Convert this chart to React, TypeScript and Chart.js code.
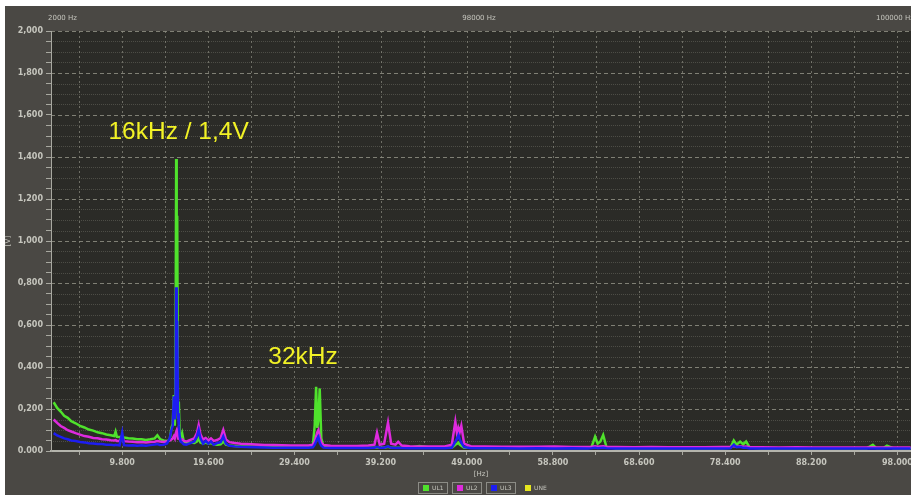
import React, { useEffect, useRef } from 'react';
import { Chart, registerables } from 'chart.js';

Chart.register(...registerables);

// ---- data ----
const freqHz: number[] = [
  2000, 2400, 2800, 3200, 3600, 4000, 4500, 5000, 5500, 6000, 6500, 7000, 7500, 8000, 8500, 8900, 9050, 9200, 9500, 9800,
  10000, 10500, 11000, 11500, 12000, 12500, 13000, 13500, 13800, 14100, 14500, 14900, 15200, 15400, 15550, 15670,
  15780, 15860, 15940, 16000, 16060, 16150, 16240, 16340, 16450, 16620, 16800, 17100,
  17400, 17700, 18000, 18300, 18500, 18700, 19000, 19300, 19600, 19900, 20200, 20600, 21000, 21300, 21600, 22000, 22600,
  23300, 24000, 25000, 26000, 27000, 28000, 29000, 30000, 31000, 31500,
  31700, 31860, 32000, 32120, 32270, 32450, 32700, 33500,
  35000, 36500, 37800, 38500, 38790, 39100, 39600, 40040, 40400, 40900, 41200, 41600, 42500,
  43600, 45000, 46500, 47300, 47700, 47900, 48050, 48200, 48380, 48700, 49500, 51000,
  53000, 55000, 57000, 59000, 61000, 62800, 63200, 63600, 63900, 64200, 64520, 64900,
  66000, 68000, 70000, 72000, 74000, 76000, 78000, 79000, 79380, 79700, 80100, 80450, 80780, 81200, 82500,
  84500, 86500, 88500, 90500, 92500, 94500, 95200, 95600, 96400, 96800, 97500, 98500, 99500,
];

const ul1: number[] = [
  0.232, 0.205, 0.188, 0.168, 0.158, 0.142, 0.132, 0.120, 0.112, 0.102, 0.097, 0.089, 0.085, 0.079, 0.075, 0.071, 0.092, 0.068, 0.067, 0.069,
  0.064, 0.061, 0.059, 0.056, 0.056, 0.053, 0.056, 0.060, 0.075, 0.057, 0.050, 0.048, 0.052, 0.110, 0.130, 0.267,
  0.120, 0.300, 1.390, 0.500, 1.120, 0.160, 0.235, 0.080, 0.060, 0.085, 0.045, 0.040,
  0.038, 0.040, 0.038, 0.045, 0.060, 0.040, 0.035, 0.040, 0.035, 0.038, 0.032, 0.030, 0.032, 0.045, 0.030, 0.026, 0.024,
  0.022, 0.022, 0.020, 0.020, 0.019, 0.018, 0.018, 0.018, 0.018, 0.030,
  0.120, 0.306, 0.110, 0.150, 0.298, 0.060, 0.020, 0.018,
  0.016, 0.016, 0.016, 0.016, 0.018, 0.016, 0.016, 0.020, 0.016, 0.016, 0.016, 0.016, 0.016,
  0.024, 0.015, 0.015, 0.016, 0.030, 0.035, 0.040, 0.030, 0.025, 0.016, 0.015, 0.014,
  0.014, 0.014, 0.014, 0.014, 0.014, 0.014, 0.020, 0.068, 0.035, 0.045, 0.076, 0.018,
  0.013, 0.013, 0.013, 0.013, 0.013, 0.013, 0.013, 0.015, 0.050, 0.030, 0.045, 0.032, 0.045, 0.016, 0.013,
  0.013, 0.013, 0.013, 0.013, 0.013, 0.013, 0.030, 0.014, 0.014, 0.025, 0.013, 0.013, 0.013,
];

const ul2: number[] = [
  0.150, 0.134, 0.119, 0.110, 0.099, 0.093, 0.085, 0.078, 0.071, 0.068, 0.062, 0.061, 0.056, 0.055, 0.051, 0.050, 0.052, 0.048, 0.048, 0.070,
  0.047, 0.045, 0.044, 0.042, 0.043, 0.041, 0.043, 0.044, 0.047, 0.045, 0.043, 0.046, 0.050, 0.055, 0.060, 0.070,
  0.060, 0.080, 0.090, 0.070, 0.085, 0.060, 0.070, 0.055, 0.050, 0.055, 0.048, 0.045,
  0.050, 0.055, 0.060, 0.085, 0.124, 0.080, 0.055, 0.062, 0.050, 0.060, 0.048, 0.052, 0.062, 0.100, 0.055, 0.042, 0.038,
  0.035, 0.033, 0.031, 0.029, 0.028, 0.027, 0.026, 0.026, 0.026, 0.030,
  0.045, 0.070, 0.090, 0.100, 0.070, 0.040, 0.028, 0.025,
  0.024, 0.024, 0.026, 0.030, 0.087, 0.030, 0.035, 0.135, 0.035, 0.030, 0.044, 0.026, 0.023,
  0.022, 0.022, 0.022, 0.030, 0.140, 0.080, 0.110, 0.090, 0.120, 0.035, 0.022, 0.021,
  0.020, 0.020, 0.020, 0.021, 0.019, 0.019, 0.020, 0.022, 0.020, 0.021, 0.022, 0.020,
  0.019, 0.018, 0.019, 0.018, 0.018, 0.018, 0.019, 0.020, 0.024, 0.020, 0.022, 0.020, 0.021, 0.018, 0.018,
  0.017, 0.018, 0.017, 0.017, 0.017, 0.017, 0.018, 0.017, 0.017, 0.017, 0.017, 0.017, 0.017,
];

const ul3: number[] = [
  0.085, 0.074, 0.067, 0.060, 0.056, 0.050, 0.048, 0.043, 0.041, 0.037, 0.036, 0.033, 0.033, 0.030, 0.030, 0.028, 0.030, 0.028, 0.027, 0.087,
  0.028, 0.026, 0.027, 0.025, 0.027, 0.025, 0.028, 0.031, 0.033, 0.029, 0.030, 0.036, 0.060, 0.100, 0.120, 0.260,
  0.150, 0.200, 0.780, 0.300, 0.620, 0.180, 0.120, 0.070, 0.045, 0.040, 0.032, 0.030,
  0.035, 0.040, 0.045, 0.070, 0.100, 0.060, 0.035, 0.048, 0.035, 0.045, 0.030, 0.038, 0.042, 0.070, 0.035, 0.025, 0.022,
  0.020, 0.019, 0.018, 0.017, 0.016, 0.016, 0.015, 0.015, 0.015, 0.018,
  0.030, 0.045, 0.060, 0.068, 0.040, 0.025, 0.016, 0.014,
  0.014, 0.014, 0.014, 0.015, 0.020, 0.015, 0.016, 0.022, 0.015, 0.014, 0.015, 0.014, 0.013,
  0.013, 0.013, 0.013, 0.015, 0.045, 0.060, 0.076, 0.055, 0.040, 0.018, 0.013, 0.013,
  0.013, 0.012, 0.013, 0.012, 0.013, 0.012, 0.013, 0.015, 0.013, 0.014, 0.015, 0.013,
  0.012, 0.012, 0.012, 0.012, 0.012, 0.012, 0.012, 0.013, 0.030, 0.018, 0.020, 0.015, 0.015, 0.012, 0.012,
  0.012, 0.012, 0.012, 0.012, 0.012, 0.012, 0.012, 0.012, 0.012, 0.012, 0.012, 0.012, 0.012,
];

const une: number[] = [];

const seriesNames = ['UL1', 'UL2', 'UL3', 'UNE'];
const seriesColors = ['#4fe22c', '#de2ade', '#1d1df2', '#e6e61e'];
const seriesOrder = [2, 1, 0, 3];

const yTickLabels = ['0.000', '0,200', '0,400', '0,600', '0,800', '1,000', '1,200', '1,400', '1,600', '1,800', '2,000'];
const xTickValues = [
  4900, 9800, 14700, 19600, 24500, 29400, 34300, 39200, 44100, 49000,
  53900, 58800, 63700, 68600, 73500, 78400, 83300, 88200, 93100, 98000,
];
const xTickLabels = ['', '9.800', '', '19.600', '', '29.400', '', '39.200', '', '49.000',
  '', '58.800', '', '68.600', '', '78.400', '', '88.200', '', '98.000'];
const headerLabels = ['2000 Hz', '98000 Hz', '100000 Hz'];
const annotationTexts = ['16kHz / 1,4V', '32kHz'];
const annotationFreqs = [8240, 26430];
const annotationVolts = [1.52, 0.448];

const X_MIN = 1700;
const X_MAX = 99540;
const Y_STEP = 0.05;

const TEXT = '#c6c6be';
const FRAME = '#4a4844';
const PLOT = '#2b2b27';

export default function App() {
  const ref = useRef<HTMLCanvasElement>(null);

  useEffect(() => {
    document.body.style.margin = '0';
    document.body.style.background = '#ffffff';
    const canvas = ref.current;
    if (!canvas) return;

    const n = Math.min(freqHz.length, ul1.length, ul2.length, ul3.length);
    const seriesValues = [ul1, ul2, ul3, une];
    const toPts = (vals: number[]) =>
      vals.length ? freqHz.slice(0, n).map((f, i) => ({ x: f, y: vals[i] })) : [];

    const framePlugin = {
      id: 'framePlugin',
      beforeDraw(chart: any) {
        const { ctx, chartArea: a, width, height } = chart;
        const xs = chart.scales.x;
        const ys = chart.scales.y;
        ctx.save();
        ctx.fillStyle = FRAME;
        ctx.fillRect(0, 0, width, height);
        ctx.fillStyle = PLOT;
        ctx.fillRect(a.left, a.top, a.right - a.left, a.bottom - a.top + 1);

        // minor horizontal grid
        ctx.lineWidth = 1;
        ctx.strokeStyle = 'rgba(120,120,108,0.45)';
        ctx.setLineDash([1, 1]);
        for (let k = 1; k < 40; k++) {
          if (k % 4 === 0) continue;
          const y = Math.round(ys.getPixelForValue(k * Y_STEP)) + 0.5;
          ctx.beginPath();
          ctx.moveTo(a.left, y);
          ctx.lineTo(a.right, y);
          ctx.stroke();
        }
        // major horizontal grid
        ctx.strokeStyle = 'rgba(150,150,138,0.8)';
        ctx.setLineDash([4, 3]);
        for (let k = 1; k <= 10; k++) {
          const y = Math.round(ys.getPixelForValue(k * 0.2)) + 0.5;
          ctx.beginPath();
          ctx.moveTo(a.left, y);
          ctx.lineTo(a.right, y);
          ctx.stroke();
        }
        // vertical grid
        ctx.strokeStyle = 'rgba(140,140,128,0.7)';
        ctx.setLineDash([2, 3]);
        xTickValues.forEach((f) => {
          const x = Math.round(xs.getPixelForValue(f)) + 0.5;
          ctx.beginPath();
          ctx.moveTo(x, a.top);
          ctx.lineTo(x, a.bottom);
          ctx.stroke();
        });
        ctx.restore();
      },
      afterDraw(chart: any) {
        const { ctx, chartArea: a, height } = chart;
        const xs = chart.scales.x;
        const ys = chart.scales.y;
        ctx.save();
        // header labels
        ctx.fillStyle = TEXT;
        ctx.font = '7px "DejaVu Sans"';
        ctx.textBaseline = 'middle';
        ctx.textAlign = 'left';
        ctx.fillText(headerLabels[0], a.left - 3, 12);
        ctx.textAlign = 'center';
        ctx.fillText(headerLabels[1], (a.left + a.right) / 2 - 2, 12);
        ctx.textAlign = 'left';
        ctx.fillText(headerLabels[2], a.right - 35, 12);

        // annotations
        ctx.fillStyle = '#f2f226';
        ctx.font = '24.5px "Liberation Sans"';
        ctx.textAlign = 'left';
        ctx.textBaseline = 'middle';
        annotationTexts.forEach((t, i) => {
          ctx.fillText(t, xs.getPixelForValue(annotationFreqs[i]), ys.getPixelForValue(annotationVolts[i]));
        });

        // legend
        const itemW = 30;
        const gap = 4;
        let x = (a.left + a.right) / 2 - 63;
        const top = height - 13;
        ctx.font = '6px "DejaVu Sans"';
        ctx.textBaseline = 'middle';
        seriesNames.forEach((name, i) => {
          if (i < 3) {
            ctx.strokeStyle = '#8c8c86';
            ctx.lineWidth = 1;
            ctx.strokeRect(Math.round(x) + 0.5, top + 0.5, itemW - 1, 11);
          }
          ctx.fillStyle = seriesColors[i];
          ctx.fillRect(Math.round(x) + 5, top + 3, 6, 6);
          ctx.fillStyle = TEXT;
          ctx.textAlign = 'left';
          ctx.fillText(name, Math.round(x) + 14, top + 6.5);
          x += itemW + gap;
        });
        ctx.restore();
      },
    };

    const chart = new Chart(canvas, {
      type: 'line',
      data: {
        datasets: seriesNames.map((name, i) => ({
          label: name,
          data: toPts(seriesValues[i]),
          borderColor: seriesColors[i],
          backgroundColor: seriesColors[i],
          borderWidth: 2.5,
          pointRadius: 0,
          pointHoverRadius: 0,
          fill: false,
          tension: 0,
          order: seriesOrder[i],
        })),
      },
      options: {
        responsive: false,
        animation: false,
        events: [],
        layout: { padding: { top: 25, left: 0, right: 0, bottom: 0 } },
        plugins: {
          legend: { display: false },
          tooltip: { enabled: false },
        },
        scales: {
          x: {
            type: 'linear',
            min: X_MIN,
            max: X_MAX,
            afterBuildTicks: (s: any) => {
              s.ticks = xTickValues.map((v) => ({ value: v }));
            },
            afterFit: (s: any) => {
              s.height = 44;
              s.paddingLeft = 0;
              s.paddingRight = 0;
            },
            ticks: {
              autoSkip: false,
              maxRotation: 0,
              minRotation: 0,
              padding: 3,
              color: TEXT,
              font: { family: 'DejaVu Sans', size: 8, weight: 'bold' },
              callback: (v: any) => {
                const k = xTickValues.indexOf(Math.round(Number(v)));
                return k >= 0 ? xTickLabels[k] : '';
              },
            },
            grid: {
              drawOnChartArea: false,
              drawTicks: true,
              tickLength: 4,
              tickColor: '#a8a8a0',
            },
            border: { display: true, color: '#b4b4ac', width: 2 },
            title: {
              display: true,
              text: '[Hz]',
              color: TEXT,
              font: { family: 'DejaVu Sans', size: 7, lineHeight: 1.2 },
              padding: { top: 0, bottom: 16.8 },
            },
          },
          y: {
            type: 'linear',
            min: 0,
            max: 2,
            afterFit: (s: any) => {
              s.width = 46;
              s.paddingTop = 0;
              s.paddingBottom = 0;
            },
            ticks: {
              stepSize: Y_STEP,
              autoSkip: false,
              padding: 3,
              color: TEXT,
              font: { family: 'DejaVu Sans', size: 8, weight: 'bold' },
              callback: (v: any) => {
                const k = Math.round(Number(v) / Y_STEP);
                return k % 4 === 0 ? yTickLabels[k / 4] ?? '' : '';
              },
            },
            grid: {
              drawOnChartArea: false,
              drawTicks: true,
              tickLength: 5,
              tickColor: '#a8a8a0',
            },
            border: { display: true, color: '#a8a8a0', width: 1 },
            title: {
              display: true,
              text: '[V]',
              color: TEXT,
              font: { family: 'DejaVu Sans', size: 7, lineHeight: 1 },
              padding: 0,
            },
          },
        },
      },
      plugins: [framePlugin],
    } as any);

    return () => chart.destroy();
  }, []);

  return (
    <div style={{ paddingTop: 6, paddingLeft: 5, background: '#ffffff', width: 906, height: 489 }}>
      <canvas ref={ref} width={906} height={489} style={{ display: 'block', width: 906, height: 489 }} />
    </div>
  );
}
